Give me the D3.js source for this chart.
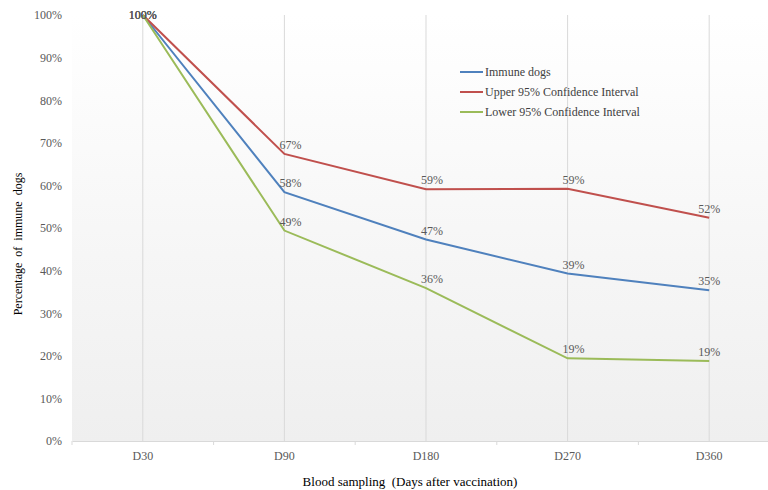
<!DOCTYPE html>
<html>
<head>
<meta charset="utf-8">
<script src="https://cdn.jsdelivr.net/npm/d3@7"></script>
<style>
  body { margin: 0; background: #fff; }
  text { font-family: "Liberation Serif", "Times New Roman", serif; }
</style>
</head>
<body>
<svg id="chart" width="768" height="490"></svg>
<script>
const days = ["D30", "D90", "D180", "D270", "D360"]
const immune = [100, 58.4, 47.3, 39.3, 35.4]
const upper = [100, 67.4, 59.1, 59.2, 52.4]
const lower = [100, 49.4, 35.9, 19.4, 18.8]
const yTicks = [0, 10, 20, 30, 40, 50, 60, 70, 80, 90, 100]

const series = [
  { name: "Immune dogs", values: immune, color: "#4f81bd" },
  { name: "Upper 95% Confidence Interval", values: upper, color: "#c0504d" },
  { name: "Lower 95% Confidence Interval", values: lower, color: "#9bbb59" }
]

const svg = d3.select("#chart")
const x = d3.scaleBand().domain(days).range([72, 780])
const y = d3.scaleLinear().domain([0, 100]).range([441, 15])
const cx = d => x(d) + x.bandwidth() / 2

// Plot background gradient
const grad = svg.append("defs").append("linearGradient")
  .attr("id", "bg").attr("x1", 0).attr("y1", 0).attr("x2", 0).attr("y2", 1)
grad.append("stop").attr("offset", "0%").attr("stop-color", "#ffffff")
grad.append("stop").attr("offset", "100%").attr("stop-color", "#efefef")

svg.append("rect")
  .attr("x", 72).attr("y", 15).attr("width", 708).attr("height", 426)
  .attr("fill", "url(#bg)")

// Vertical gridlines at categories
svg.append("g").selectAll("line")
  .data(days).enter().append("line")
  .attr("x1", cx).attr("x2", cx)
  .attr("y1", y(100)).attr("y2", y(0))
  .attr("stroke", "#d9d9d9").attr("stroke-width", 1)

// X axis
const xAxis = svg.append("g").attr("transform", `translate(0,${y(0)})`)
  .call(d3.axisBottom(x).tickSize(0).tickPadding(10))
xAxis.select(".domain").attr("stroke", "#d9d9d9")
xAxis.selectAll("text").attr("fill", "#595959").attr("font-size", 12)
  .attr("font-family", "Liberation Serif")
// band boundary ticks
xAxis.append("g").selectAll("line")
  .data(days.concat(["end"])).enter().append("line")
  .attr("x1", (d, i) => x.range()[0] + i * x.step())
  .attr("x2", (d, i) => x.range()[0] + i * x.step())
  .attr("y1", 0).attr("y2", 4)
  .attr("stroke", "#d9d9d9")

// Y axis labels
const yAxis = svg.append("g").attr("transform", "translate(62,0)")
  .call(d3.axisLeft(y).tickValues(yTicks).tickSize(0).tickPadding(0)
    .tickFormat(d => d + "%"))
yAxis.select(".domain").remove()
yAxis.selectAll("text").attr("fill", "#595959").attr("font-size", 12)
  .attr("font-family", "Liberation Serif")

// Lines
const line = d3.line().x((v, i) => cx(days[i])).y(v => y(v))
svg.append("g").selectAll("path")
  .data(series).enter().append("path")
  .attr("d", s => line(s.values))
  .attr("fill", "none")
  .attr("stroke", d => d.color)
  .attr("stroke-width", 2)

// Data labels (kept inside the plot area at the top)
series.forEach(s => {
  svg.append("g").selectAll("text")
    .data(s.values).enter().append("text")
    .attr("x", (v, i) => cx(days[i]) + (i === 0 || i === 4 ? 0 : 6))
    .attr("y", v => Math.max(y(v) - 5, 19))
    .attr("text-anchor", "middle")
    .attr("font-size", 12)
    .attr("fill", "#595959")
    .text(v => Math.round(v) + "%")
})

// Legend
const lg = svg.append("g").attr("transform", "translate(460,72)")
series.forEach((s, i) => {
  const row = lg.append("g").attr("transform", `translate(0,${i * 20})`)
  row.append("line").attr("x1", 0).attr("x2", 23)
    .attr("stroke", s.color).attr("stroke-width", 2)
  row.append("text").attr("x", 25).attr("dy", "0.35em")
    .attr("font-size", 12).attr("fill", "#404040").text(s.name)
})

// Axis titles
svg.append("text")
  .attr("x", 410).attr("y", 486)
  .attr("text-anchor", "middle").attr("font-size", 13).attr("fill", "#000")
  .style("white-space", "pre")
  .text("Blood sampling  (Days after vaccination)")

svg.append("text")
  .attr("transform", "translate(22,244) rotate(-90)")
  .attr("text-anchor", "middle").attr("font-size", 12).attr("fill", "#000")
  .style("white-space", "pre")
  .text("Percentage  of  immune  dogs")
</script>
</body>
</html>
